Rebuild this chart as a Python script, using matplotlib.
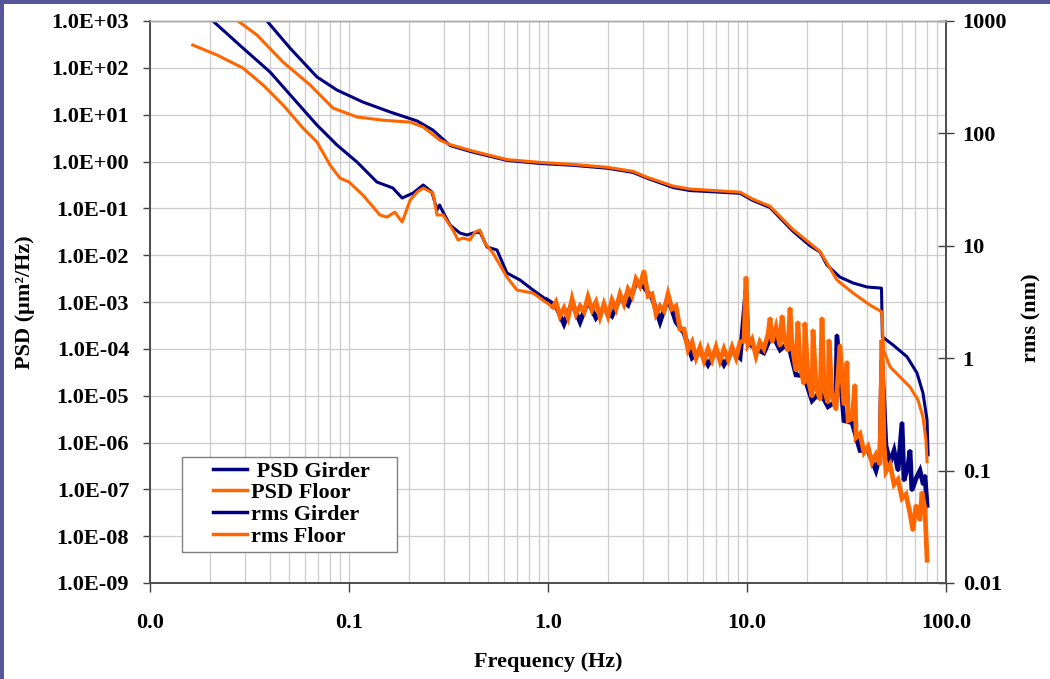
import matplotlib
matplotlib.use('Agg')
import numpy as np
import matplotlib.pyplot as plt
from matplotlib.ticker import FixedLocator, FixedFormatter, NullLocator, LogLocator
from matplotlib.patches import Rectangle

# ---------------- data ----------------
psd_girder_freq = [0.019, 0.0207, 0.0293, 0.0401, 0.0523, 0.069, 0.087, 0.1097, 0.138, 0.166, 0.185,
                   0.210, 0.236, 0.261, 0.277, 0.285, 0.297, 0.322, 0.361, 0.392, 0.420, 0.455, 0.494,
                   0.554, 0.622, 0.723, 0.841, 0.989,
                   1.096, 1.203, 1.321, 1.449, 1.588, 1.742, 1.910, 2.097, 2.300, 2.523, 2.767, 3.034,
                   3.334, 3.656, 4.009, 4.395, 4.820, 5.297, 5.808, 6.368, 6.982, 7.656, 8.414, 9.226,
                   9.886, 10.12, 11.09, 12.16, 13.37, 14.66, 16.07, 17.62, 19.32, 21.23, 23.28, 25.53,
                   27.99, 28.3, 30.69, 33.73, 36.98, 40.55, 44.46, 46.56, 47.6, 49.9, 52.36, 54.83,
                   57.41, 60.12, 61.5, 64.4, 65.92, 67.4, 70.7, 74.0, 76.9, 78.34, 80.35]
psd_girder_val = [1300, 1000, 265, 81.5, 22.7, 6.01, 2.25, 0.975, 0.365, 0.272, 0.166,
                  0.212, 0.315, 0.223, 0.092, 0.118, 0.083, 0.044, 0.0297, 0.0269, 0.0297, 0.0312, 0.0149,
                  0.0129, 0.00416, 0.00295, 0.0018, 0.0011,
                  8.21e-4, 3.39e-4, 9.52e-4, 3.74e-4, 1.05e-3, 4.55e-4, 7.44e-4, 5.03e-4, 1.22e-3, 8.63e-4,
                  2.54e-3, 2.09e-3, 1.22e-3, 3.74e-4, 1.22e-3, 3.74e-4, 2.18e-4, 6.42e-5, 9.06e-5, 4.55e-5,
                  9.06e-5, 4.55e-5, 9.06e-5, 6.42e-5, 1.81e-3, 1.33e-4, 1.0e-4, 8.21e-5, 2.07e-4, 9.5e-5,
                  1.33e-4, 2.78e-5, 2.65e-5, 7.82e-6, 1.19e-5, 5.82e-6, 7.44e-6, 1.97e-4, 2.93e-6, 2.65e-6,
                  6.75e-7, 6.75e-7, 2.52e-7, 5.28e-7, 5.82e-5, 8.63e-7, 3.74e-7, 6.75e-7, 2.52e-7, 2.65e-6,
                  1.54e-7, 3.23e-7, 6.75e-7, 9.5e-8, 1.70e-7, 2.52e-7, 1.27e-7, 1.97e-7, 4.55e-8]

psd_floor_freq = [0.0164, 0.0217, 0.0293, 0.037, 0.0466, 0.0587, 0.069, 0.0803, 0.090, 0.1, 0.1175,
                  0.143, 0.155, 0.170, 0.185, 0.203, 0.220, 0.236, 0.264, 0.277, 0.297, 0.333, 0.353,
                  0.374, 0.405, 0.43, 0.455, 0.482, 0.529, 0.622, 0.698, 0.841, 0.989, 1.059,
                  1.096, 1.148, 1.203, 1.261, 1.321, 1.383, 1.449, 1.518, 1.588, 1.663, 1.742, 1.824,
                  1.910, 2.002, 2.097, 2.196, 2.300, 2.409, 2.523, 2.642, 2.767, 2.897, 3.034, 3.184,
                  3.334, 3.491, 3.656, 3.828, 4.009, 4.198, 4.395, 4.603, 4.820, 5.058, 5.297, 5.546,
                  5.808, 6.081, 6.368, 6.668, 6.982, 7.311, 7.656, 8.035, 8.414, 8.810, 9.226, 9.661,
                  9.886, 10.12, 10.59, 11.09, 11.61, 12.16, 12.76, 13.06, 13.37, 14.00, 14.66, 15.00,
                  15.35, 16.07, 16.45, 16.83, 17.62, 18.03, 18.45, 19.32, 19.54, 20.28, 21.23, 21.46,
                  22.23, 23.28, 23.82, 24.38, 25.53, 25.82, 26.73, 27.99, 29.31, 30.69, 31.81, 32.21,
                  33.73, 34.88, 35.32, 36.98, 38.73, 40.55, 42.46, 44.46, 46.56, 47.65, 48.8, 49.9,
                  52.36, 54.83, 57.41, 60.12, 62.95, 65.92, 68.2, 70.7, 74.0, 75.68, 78.34, 80.35]
psd_floor_val = [307, 188, 99, 43, 16.1, 5.19, 2.61, 0.84, 0.444, 0.365, 0.192,
                 0.072, 0.065, 0.083, 0.051, 0.151, 0.223, 0.272, 0.212, 0.072, 0.072, 0.0344, 0.0211,
                 0.0232, 0.0211, 0.0312, 0.0344, 0.0182, 0.0111, 0.0034, 0.0018, 0.00155, 0.00095, 0.00078,
                 1.0e-3, 5.03e-4, 7.44e-4, 4.55e-4, 1.16e-3, 5.54e-4, 8.21e-4, 6.12e-4, 1.28e-3, 6.75e-4,
                 1.0e-3, 4.78e-4, 9.06e-4, 5.03e-4, 1.10e-3, 7.09e-4, 1.48e-3, 9.06e-4, 1.89e-3, 1.34e-3,
                 3.10e-3, 2.20e-3, 4.59e-3, 1.34e-3, 1.48e-3, 5.54e-4, 8.21e-4, 6.42e-4, 1.48e-3, 7.09e-4,
                 8.21e-4, 2.65e-4, 2.65e-4, 9.5e-5, 1.40e-4, 6.42e-5, 1.09e-4, 5.54e-5, 1.0e-4, 5.82e-5,
                 1.09e-4, 5.54e-5, 1.0e-4, 5.82e-5, 1.09e-4, 6.42e-5, 1.40e-4, 1.47e-4,
                 3.41e-3, 1.21e-4, 1.62e-4, 7.09e-5, 1.40e-4, 1.0e-4, 2.07e-4, 4.55e-4, 1.40e-4, 2.93e-4,
                 1.15e-4, 5.03e-4, 1.79e-4, 9.06e-5, 7.44e-4, 1.27e-4, 3.39e-5, 3.74e-4, 4.34e-5, 1.79e-5,
                 3.56e-4, 2.29e-5, 9.5e-6, 2.52e-4, 1.54e-5, 8.21e-6, 4.55e-4, 1.40e-5, 7.09e-6, 1.54e-4,
                 1.09e-5, 5.03e-6, 1.21e-4, 6.42e-6, 5.28e-5, 2.93e-6, 3.23e-6, 1.70e-5, 1.27e-6, 1.54e-6,
                 6.12e-7, 8.21e-7, 3.74e-7, 5.54e-7, 3.39e-7, 1.54e-4, 9.06e-7, 2.40e-7, 3.39e-7, 1.27e-7,
                 1.62e-7, 6.42e-8, 7.82e-8, 3.07e-8, 1.33e-8, 4.55e-8, 2.18e-8, 8.63e-8, 3.93e-8, 3.07e-9]

rms_girder_freq = [0.035, 0.0387, 0.0505, 0.069, 0.087, 0.1175, 0.161, 0.220, 0.264, 0.322, 0.42,
                   0.622, 0.912, 1.336, 1.98, 2.67, 3.14, 4.25, 5.17, 9.23, 10.7, 13.05, 17.0, 20.75,
                   23.3, 25.2, 29.3, 34.1, 40.1, 47.4, 47.9, 54.2, 63.7, 71.5, 76.6, 80.3, 81.3]
rms_girder_val = [1200, 1000, 575, 318, 243, 190, 155, 129, 107, 78, 68,
                  57.5, 54, 52, 49, 45, 40, 33, 31, 29.3, 25.3, 21.9, 13.5, 10.0,
                  8.8, 6.75, 5.27, 4.67, 4.30, 4.2, 1.55, 1.31, 1.03, 0.738, 0.49, 0.282, 0.138]

rms_floor_freq = [0.025, 0.0277, 0.0345, 0.0466, 0.0637, 0.0831, 0.1097, 0.148, 0.203, 0.236, 0.286,
                  0.322, 0.42, 0.622, 0.912, 1.336, 1.98, 2.67, 3.14, 4.25, 5.17, 9.23, 10.7, 13.05,
                  17.0, 20.75, 23.3, 28.3, 34.1, 41.5, 47.6, 48.5, 52.4, 65.9, 72.3, 76.6, 79.3, 80.3]
rms_floor_val = [1150, 1000, 750, 431, 270, 168, 140, 131, 126, 114, 87.3,
                 79.5, 69.5, 58.5, 55.2, 53, 50, 46, 40.8, 34, 32, 30, 26, 22.5,
                 14, 10.5, 8.9, 4.97, 3.8, 2.97, 2.58, 1.18, 0.836, 0.555, 0.425, 0.30, 0.187, 0.12]

x_ticks = [0.01, 0.1, 1, 10, 100]
x_tick_labels = ['0.0', '0.1', '1.0', '10.0', '100.0']
psd_ticks = [1e-9, 1e-8, 1e-7, 1e-6, 1e-5, 1e-4, 1e-3, 1e-2, 1e-1, 1e0, 1e1, 1e2, 1e3]
psd_tick_labels = ['1.0E-09', '1.0E-08', '1.0E-07', '1.0E-06', '1.0E-05', '1.0E-04', '1.0E-03',
                   '1.0E-02', '1.0E-01', '1.0E+00', '1.0E+01', '1.0E+02', '1.0E+03']
rms_ticks = [0.01, 0.1, 1, 10, 100, 1000]
rms_tick_labels = ['0.01', '0.1', '1', '10', '100', '1000']
series_labels = [' PSD Girder', 'PSD Floor', 'rms Girder', 'rms Floor']

NAVY = '#000080'
ORANGE = '#FF6600'

# ---------------- figure ----------------
plt.rcParams['font.family'] = ['Liberation Serif', 'DejaVu Serif']
plt.rcParams['font.weight'] = 'bold'

FS = 16
W, H = 1050, 679
fig = plt.figure(figsize=(W / 100, H / 100), dpi=100, facecolor='#56569a')
fig.patches.append(Rectangle((4 / W, 0), 1, 1 - 4 / H, transform=fig.transFigure,
                             facecolor='white', edgecolor='none', zorder=-10))

AX_L, AX_R, AX_T, AX_B = 150, 946, 21, 583
ax = fig.add_axes([AX_L / W, 1 - AX_B / H, (AX_R - AX_L) / W, (AX_B - AX_T) / H])
ax.set_zorder(1)
ax.set_xscale('log')
ax.set_yscale('log')
ax.set_xlim(0.01, 100)
ax.set_ylim(1e-9, 1e3)

ax.xaxis.set_major_locator(FixedLocator(x_ticks))
ax.xaxis.set_major_formatter(FixedFormatter(x_tick_labels))
ax.xaxis.set_minor_locator(LogLocator(base=10, subs=[2, 3, 4, 5, 6, 7, 8, 9], numticks=20))
ax.xaxis.set_minor_formatter(FixedFormatter([]))
ax.yaxis.set_major_locator(FixedLocator(psd_ticks))
ax.yaxis.set_major_formatter(FixedFormatter(psd_tick_labels))
ax.yaxis.set_minor_locator(NullLocator())

ax.grid(True, which='both', axis='x', color='#cccccc', lw=0.9)
ax.grid(True, which='major', axis='y', color='#cccccc', lw=0.9)
ax.set_axisbelow(True)

ax.tick_params(axis='y', which='major', direction='out', length=5, width=1, pad=10,
               labelsize=FS, color='#404040')
ax.tick_params(axis='x', which='major', direction='out', length=6.5, width=1, pad=15,
               labelsize=FS, color='#404040')
ax.tick_params(axis='x', which='minor', length=0)

# PSD: whole series, then its noisy (>1 Hz) stretch drawn again heavier
gf, gv = np.array(psd_girder_freq), np.array(psd_girder_val)
ff, fv = np.array(psd_floor_freq), np.array(psd_floor_val)
gn, fn = gf >= 0.98, ff >= 1.05
l1, = ax.plot(gf, gv, color=NAVY, lw=2.2, solid_joinstyle='round')
ax.plot(gf[gn], gv[gn], color=NAVY, lw=3.4, solid_joinstyle='miter')
l2, = ax.plot(ff, fv, color=ORANGE, lw=2.2, solid_joinstyle='round')
ax.plot(ff[fn], fv[fn], color=ORANGE, lw=3.4, solid_joinstyle='miter')

ax2 = ax.twinx()
ax2.set_zorder(2)
ax2.patch.set_visible(False)
ax2.set_yscale('log')
ax2.set_ylim(0.01, 1000)
ax2.yaxis.set_major_locator(FixedLocator(rms_ticks))
ax2.yaxis.set_major_formatter(FixedFormatter(rms_tick_labels))
ax2.yaxis.set_minor_locator(NullLocator())
ax2.tick_params(axis='y', which='major', direction='inout', length=12, width=1, pad=6,
                labelsize=FS, color='#404040')

l3, = ax2.plot(rms_girder_freq, rms_girder_val, color=NAVY, lw=2.2, solid_joinstyle='round')
l4, = ax2.plot(rms_floor_freq, rms_floor_val, color=ORANGE, lw=2.2, solid_joinstyle='round')

for a in (ax, ax2):
    for side in ('left', 'bottom', 'right'):
        a.spines[side].set_color('#505050')
        a.spines[side].set_linewidth(1.3)
    a.spines['top'].set_color('#a8a8a8')
    a.spines['top'].set_linewidth(1.0)

# legend: frame drawn as a separate box, entries placed inside it
def ax_frac(px, py):
    return (px - AX_L) / (AX_R - AX_L), (AX_B - py) / (AX_B - AX_T)

bx0, by0 = ax_frac(182, 552)
bx1, by1 = ax_frac(397, 457)
ax2.add_patch(Rectangle((bx0, by0), bx1 - bx0, by1 - by0, transform=ax2.transAxes,
                        facecolor='white', edgecolor='#808080', lw=1.0, zorder=5))
lx, ly = ax_frac(213, 461)
leg = ax2.legend([l1, l2, l3, l4], series_labels, loc='upper left',
                 bbox_to_anchor=(lx, ly), borderaxespad=0, borderpad=0, fontsize=FS,
                 frameon=False, handlelength=1.55, handletextpad=0.14, labelspacing=0.05)
leg.set_zorder(6)
for h in leg.get_lines():
    h.set_linewidth(2.5)

fig.text(548 / W, 1 - 662 / H, 'Frequency (Hz)', ha='center', va='center', fontsize=FS,
         fontweight='bold')
fig.text(25 / W, 1 - 302 / H, 'PSD (μm²/Hz)', ha='center', va='center', rotation=90,
         fontsize=FS, fontweight='bold')
fig.text(1031 / W, 1 - 318 / H, 'rms (nm)', ha='center', va='center', rotation=90,
         fontsize=FS, fontweight='bold')

fig.savefig('out.png', dpi=100, facecolor=fig.get_facecolor())
